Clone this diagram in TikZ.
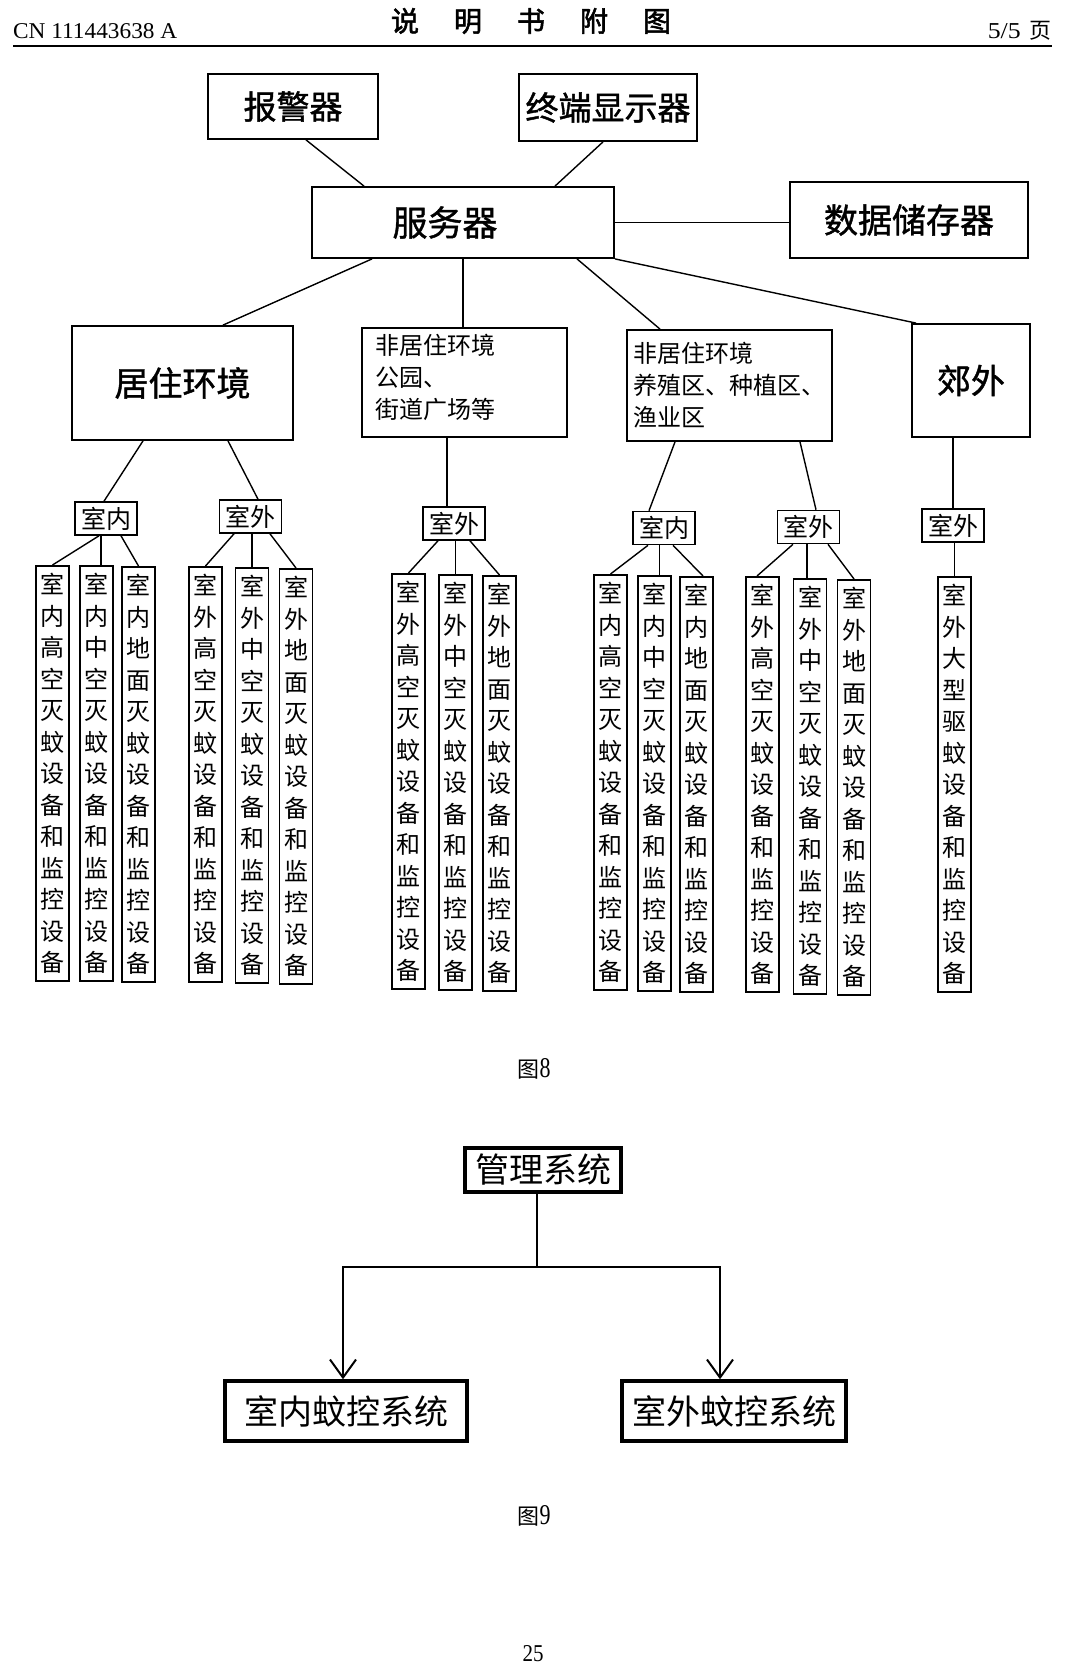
\documentclass[tikz,border=0pt]{standalone}
\usepackage{fontspec}
\setmainfont{Liberation Serif}
\newfontfamily\cjk{Noto Sans CJK SC}
\newfontfamily\cjkb[FakeBold=1.2]{Noto Sans CJK SC}
\newfontfamily\cjkbb[FakeBold=2]{Noto Sans CJK SC}
\usetikzlibrary{arrows.meta}
\newcommand\mtail{灭\\蚊\\设\\备\\和\\监\\控\\设\\备}
\begin{document}
\begin{tikzpicture}[x=1pt,y=-1pt,
 big/.style={draw, line width=1.8pt, inner sep=0pt, font={\cjkb\fontsize{33}{36}\selectfont}},
 mid/.style={draw, line width=1.8pt, inner sep=0pt, align=left, font={\cjk\fontsize{24}{32}\selectfont}},
 small/.style={draw, line width=1.6pt, inner sep=0pt, minimum width=62pt, minimum height=33pt, font={\cjk\fontsize{25}{26}\selectfont}},
 col/.style={draw, line width=1.6pt, anchor=north, minimum width=33pt, minimum height=415pt, inner sep=0pt, text width=30pt, align=center, font={\cjk\fontsize{24}{31.5}\selectfont}},
 conn/.style={line width=1.4pt},
 sysbox/.style={draw, line width=3.5pt, inner sep=0pt, font={\cjk\fontsize{34}{36}\selectfont}},
 sysline/.style={line width=2.4pt},
 sysarrow/.style={line width=2.4pt, -{Straight Barb[length=18pt,width=26pt,line width=2pt]}},
 plain/.style={inner sep=0pt}
]
\useasboundingbox (0,0) rectangle (1066,1676);
\fill[white] (0,0) rectangle (1066,1676);

% header
\node[plain, anchor=base west] (cn) at (13,38) {\resizebox{164pt}{15pt}{CN 111443638 A}};
\node[plain, font={\cjkbb\fontsize{28}{30}\selectfont}] (title) at (531,21) {说\hspace{35pt}明\hspace{35pt}书\hspace{35pt}附\hspace{35pt}图};
\node[plain, anchor=base east] (page) at (1052,38) {\resizebox{33pt}{15pt}{5/5}\hspace{9pt}{\cjk\fontsize{22}{24}\selectfont 页}};
\coordinate (hl) at (13,46);
\coordinate (hr) at (1052,46);
\draw[line width=2.5pt] (hl) -- (hr);

% figure 8 top
\node[big, minimum width=170pt, minimum height=65pt] (alarm) at (293,106.5) {报警器};
\node[big, minimum width=178pt, minimum height=67pt] (term) at (608,107.5) {终端显示器};
\node[big, minimum width=302pt, minimum height=71pt, font={\cjkb\fontsize{35}{36}\selectfont}] (server) at (463,222.5) {服务器\kern36pt};
\node[big, minimum width=238pt, minimum height=76pt, font={\cjkb\fontsize{34}{36}\selectfont}] (store) at (909,220) {数据储存器};
\node[big, minimum width=221pt, minimum height=114pt, font={\cjkb\fontsize{34}{36}\selectfont}] (home) at (182.5,383) {居住环境};
\node[mid, minimum width=205pt, minimum height=109pt, inner xsep=13pt, text width=179pt] (park) at (464.5,382.5) {非居住环境\\公园、\\街道广场等\rule[-12pt]{0pt}{12pt}};
\node[mid, minimum width=205pt, minimum height=111pt] (farm) at (729.5,385.5) {非居住环境\\养殖区、种植区、\\渔业区};
\node[big, minimum width=118pt, minimum height=113pt, font={\cjkb\fontsize{34}{36}\selectfont}] (suburb) at (971,380.5) {郊外};

\draw[conn] ([xshift=13pt]alarm.south) -- ([xshift=-99pt]server.north);
\draw[conn] ([xshift=-5pt]term.south) -- ([xshift=92pt]server.north);
\draw[conn] (server.east) -- (server.east -| store.west);
\draw[conn] ([xshift=-91pt]server.south) -- ([xshift=40.5pt]home.north);
\draw[conn] (server.south) -- (server.south |- park.north);
\draw[conn] ([xshift=114pt]server.south) -- ([xshift=-69.5pt]farm.north);
\draw[conn] (server.south east) -- ([xshift=5pt]suburb.north west);

% second level
\node[small] (hin) at (106,518.5) {室内};
\node[small] (hout) at (250.5,516.5) {室外};
\node[small] (pout) at (454,523.5) {室外};
\node[small] (fin) at (664,528) {室内};
\node[small] (fout) at (808.5,527) {室外};
\node[small] (sout) at (953,525.5) {室外};

\draw[conn] ([xshift=-39.5pt]home.south) -- ([xshift=-2pt]hin.north);
\draw[conn] ([xshift=45.5pt]home.south) -- ([xshift=7.5pt]hout.north);
\draw[conn] ([xshift=-7pt]pout.north) -- ([xshift=-7pt]pout.north |- park.south);
\draw[conn] ([xshift=-54.5pt]farm.south) -- ([xshift=-15pt]fin.north);
\draw[conn] ([xshift=70.5pt]farm.south) -- ([xshift=7.5pt]fout.north);
\draw[conn] (sout.north) -- (sout.north |- suburb.south);

% columns
\node[col] (a1) at (52.5,565) {室\\内\\高\\空\\\mtail};
\node[col] (a2) at (96.5,565) {室\\内\\中\\空\\\mtail};
\node[col] (a3) at (138.5,566) {室\\内\\地\\面\\\mtail};
\node[col] (b1) at (205.5,566) {室\\外\\高\\空\\\mtail};
\node[col] (b2) at (252,567) {室\\外\\中\\空\\\mtail};
\node[col] (b3) at (296,568) {室\\外\\地\\面\\\mtail};
\node[col] (c1) at (408.5,573) {室\\外\\高\\空\\\mtail};
\node[col] (c2) at (455.5,574) {室\\外\\中\\空\\\mtail};
\node[col] (c3) at (499.5,575) {室\\外\\地\\面\\\mtail};
\node[col] (d1) at (610.5,574) {室\\内\\高\\空\\\mtail};
\node[col] (d2) at (654.5,575) {室\\内\\中\\空\\\mtail};
\node[col] (d3) at (696.5,576) {室\\内\\地\\面\\\mtail};
\node[col] (e1) at (762.5,576) {室\\外\\高\\空\\\mtail};
\node[col] (e2) at (810,578) {室\\外\\中\\空\\\mtail};
\node[col] (e3) at (854,579) {室\\外\\地\\面\\\mtail};
\node[col] (f1) at (954.5,576) {室\\外\\大\\型\\驱\\蚊\\设\\备\\和\\监\\控\\设\\备};

\draw[conn] ([xshift=-7pt]hin.south) -- (a1.north);
\draw[conn] ([xshift=4.5pt]a2.north) -- ([xshift=4.5pt]a2.north |- hin.south);
\draw[conn] ([xshift=15pt]hin.south) -- (a3.north);
\draw[conn] ([xshift=-16.5pt]hout.south) -- (b1.north);
\draw[conn] (b2.north) -- (b2.north |- hout.south);
\draw[conn] ([xshift=19.5pt]hout.south) -- (b3.north);
\draw[conn] ([xshift=-16pt]pout.south) -- (c1.north);
\draw[conn] (c2.north) -- (c2.north |- pout.south);
\draw[conn] ([xshift=16pt]pout.south) -- (c3.north);
\draw[conn] ([xshift=-16pt]fin.south) -- (d1.north);
\draw[conn] ([xshift=5pt]d2.north) -- ([xshift=5pt]d2.north |- fin.south);
\draw[conn] ([xshift=9pt]fin.south) -- ([xshift=6.5pt]d3.north);
\draw[conn] ([xshift=-15.5pt]fout.south) -- ([xshift=-5.5pt]e1.north);
\draw[conn] ([xshift=-3pt]e2.north) -- ([xshift=-3pt]e2.north |- fout.south);
\draw[conn] ([xshift=19.5pt]fout.south) -- (e3.north);
\draw[conn] (f1.north) -- (f1.north |- sout.south);

\node[plain] (fig8) at (534,1069) {{\cjk\fontsize{22}{24}\selectfont 图}\resizebox{11pt}{19pt}{8}};

% figure 9
\node[sysbox, minimum width=156pt, minimum height=44pt] (mgmt) at (543,1170) {管理系统};
\node[sysbox, minimum width=242pt, minimum height=60pt] (indoor) at (346,1411) {室内蚊控系统};
\node[sysbox, minimum width=224pt, minimum height=60pt] (outdoor) at (734,1411) {室外蚊控系统};
\coordinate (jn) at (537,1267);
\coordinate (jl) at (343,1267);
\coordinate (jr) at (720,1267);
\draw[sysline] (jn |- mgmt.south) -- (jn);
\draw[sysline, line cap=rect] (jl) -- (jr);
\draw[sysarrow] (jl) -- (jl |- indoor.north);
\draw[sysarrow] (jr) -- (jr |- outdoor.north);

\node[plain] (fig9) at (534,1516) {{\cjk\fontsize{22}{24}\selectfont 图}\resizebox{11pt}{19pt}{9}};
\node[plain] (pnum) at (533,1654) {\resizebox{21pt}{16pt}{25}};
\end{tikzpicture}
\end{document}
